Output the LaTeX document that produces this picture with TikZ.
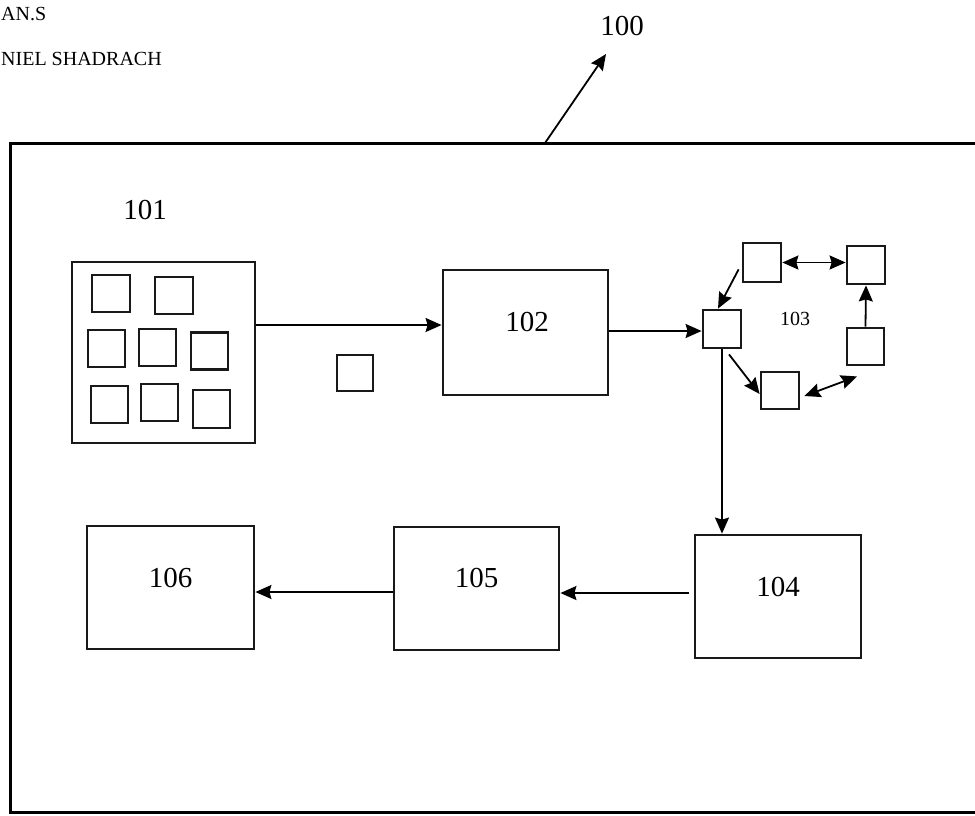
\documentclass[tikz,border=0pt]{standalone}
\usepackage{fontspec}
\setmainfont{Liberation Serif}
\usetikzlibrary{arrows.meta}
\begin{document}
\begin{tikzpicture}[x=1pt,y=-1pt,
  blk/.style={draw=black!90, line width=2.8pt, inner sep=0pt, fill=none},
  sq/.style={draw=black!90, line width=2.8pt, inner sep=0pt, minimum width=37pt, minimum height=37pt},
  arr/.style={line width=1.8pt, -{Stealth[length=16pt,width=14pt,inset=2pt]}},
  darr/.style={line width=1.8pt, {Stealth[length=16pt,width=14pt,inset=2pt]}-{Stealth[length=16pt,width=14pt,inset=2pt]}},
  lbl/.style={font=\fontsize{29}{31}\selectfont, inner sep=0pt}]
\useasboundingbox[fill=white] (0,0) rectangle (975,815);
% header text
\node[anchor=west, font=\fontsize{20}{22}\selectfont, inner sep=0pt] (h1) at (1,14) {AN.S};
\node[anchor=west, font=\fontsize{20}{22}\selectfont, inner sep=0pt] (h2) at (1,59) {NIEL SHADRACH};
% outer frame
\draw[line width=3pt] (985,143) -- (10,143) -- (10,812) -- (985,812);
\coordinate (f) at (545,143);
\coordinate (p100) at (606,54);
\draw[arr] (f) -- (p100);
\node[lbl] (l100) at (622,26) {100};
% 101
\node[lbl] (l101) at (145,210) {101};
\node[blk, minimum width=183pt, minimum height=181pt] (n101) at (163.5,352.5) {};
\node[sq, minimum width=38pt] (a1) at (111,293.5) {};
\node[sq, minimum width=38pt] (a2) at (174,295.5) {};
\node[sq] (a3) at (106.5,348.5) {};
\node[sq] (a4) at (157.5,347.5) {};
\node[sq] (a5) at (209.5,351) {};
\node[sq] (a6) at (109.5,404.5) {};
\node[sq] (a7) at (159.5,402.5) {};
\node[sq, minimum height=38pt] (a8) at (211.5,409) {};
% small square
\node[sq, minimum width=36pt, minimum height=36pt] (s) at (355,373) {};
% 102
\node[blk, minimum width=165pt, minimum height=125pt] (n102) at (525.5,332.5) {};
\node[lbl] at (527,322) {102};
% 103 cluster
\node[sq, minimum width=38pt, minimum height=38pt] (hub) at (722,329) {};
\node[sq, minimum width=38pt, minimum height=39pt] (t1) at (762,262.5) {};
\node[sq, minimum width=38pt, minimum height=38pt] (tr) at (866,265) {};
\node[sq] (r) at (865.5,346.5) {};
\node[sq, minimum width=38pt] (b) at (780,390.5) {};
\node[font=\fontsize{20}{22}\selectfont, inner sep=0pt] (l103) at (795,319) {103};
% 104 105 106
\node[blk, minimum width=166pt, minimum height=123pt] (n104) at (778,596.5) {};
\node[lbl] at (778,587) {104};
\node[blk, minimum width=165pt, minimum height=123pt] (n105) at (476.5,588.5) {};
\node[lbl] at (476.5,578) {105};
\node[blk, minimum width=167pt, minimum height=123pt] (n106) at (170.5,587.5) {};
\node[lbl] at (170.5,578) {106};
% connectors
\draw[arr] (n101.east |- 0,325) -- (n102.west |- 0,325);
\draw[arr] (n102.east |- 0,331) -- (hub.west |- 0,331);
\draw[darr] (t1.east) -- (tr.west |- t1.east);
\draw[arr] ([shift={(-3,-14)}]t1.south west) -- ([xshift=-4pt]hub.north);
\draw[arr] (r.north) -- (tr.south);
\draw[darr] ([shift={(4,5.5)}]b.east) -- ([shift={(-8.5,10)}]r.south);
\draw[arr] ([shift={(7,5)}]hub.south) -- ([yshift=-3.5pt]b.west);
\draw[arr] (hub.south) -- (hub.south |- n104.north);
\draw[arr] ([xshift=-5pt]n104.west |- 0,593) -- (n105.east |- 0,593);
\draw[arr] (n105.west |- 0,592) -- (n106.east |- 0,592);
\end{tikzpicture}
\end{document}
